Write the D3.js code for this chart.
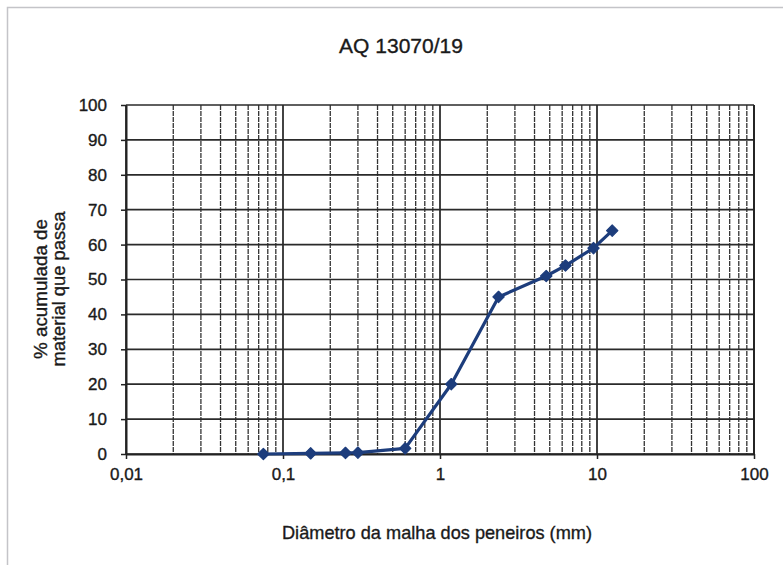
<!DOCTYPE html>
<html>
<head>
<meta charset="utf-8">
<script src="https://cdn.jsdelivr.net/npm/d3@7"></script>
<style>
  body { margin: 0; background: #fff; }
  text { font-family: "Liberation Sans", Arial, sans-serif; fill: #1a1a1a; stroke: #1a1a1a; stroke-width: 0.35px; }
</style>
</head>
<body>
<div id="chart"></div>
<script>
// sieve data
let sieveSizes = [0.075, 0.15, 0.25, 0.3, 0.6, 1.18, 2.36, 4.75, 6.3, 9.5, 12.5];
let passing = [0, 0.2, 0.3, 0.4, 1.6, 20, 45, 51, 54, 59, 64];
let xTickValues = [0.01, 0.1, 1, 10, 100];
let xTickLabels = ["0,01", "0,1", "1", "10", "100"];
let yTickValues = [0, 10, 20, 30, 40, 50, 60, 70, 80, 90, 100];

let chartTitle = "AQ 13070/19";
let xTitle = "Diâmetro da malha dos peneiros (mm)";
let yTitleLines = ["% acumulada de", "material que passa"];

let svgWidth = 783;
let svgHeight = 569;

// plot area
let margins = { top: 105, right: 29, bottom: 115, left: 126 };
let width = svgWidth - margins.left - margins.right;
let height = svgHeight - margins.top - margins.bottom;

let svg = d3.select("#chart")
    .append("svg")
    .attr("width", svgWidth)
    .attr("height", svgHeight);

// outer chart frame (only top and left show in the scan)
svg.append("path")
    .attr("d", "M7.5,565 V7.5 H783")
    .attr("fill", "none")
    .attr("stroke", "#c4c4c8")
    .attr("stroke-width", 1.5);

let chartGroup = svg.append("g")
    .attr("transform", `translate(${margins.left}, ${margins.top})`);

let xScale = d3.scaleLog()
    .domain([0.01, 100])
    .range([0, width]);

let yScale = d3.scaleLinear()
    .domain([0, 100])
    .range([height, 0]);

// vertical grid: 1..9 in each decade
let xGrid = xScale.ticks();
let isMajor = d => Math.abs(Math.log10(d) - Math.round(Math.log10(d))) < 1e-9;

chartGroup.append("g")
    .selectAll("line")
    .data(xGrid)
    .enter()
    .append("line")
    .attr("x1", d => xScale(d))
    .attr("x2", d => xScale(d))
    .attr("y1", 0)
    .attr("y2", height)
    .attr("stroke", d => isMajor(d) ? "#222" : "#333")
    .attr("stroke-width", d => isMajor(d) ? 1.7 : 1.3)
    .attr("stroke-dasharray", d => isMajor(d) ? null : "5,1");

// horizontal grid
chartGroup.append("g")
    .selectAll("line")
    .data(yTickValues)
    .enter()
    .append("line")
    .attr("x1", 0)
    .attr("x2", width)
    .attr("y1", d => yScale(d))
    .attr("y2", d => yScale(d))
    .attr("stroke", "#2a2a2a")
    .attr("stroke-width", 1.7);

// axes
let bottomAxis = d3.axisBottom(xScale)
    .tickValues(xTickValues)
    .tickFormat((d, i) => xTickLabels[i])
    .tickSizeInner(5)
    .tickSizeOuter(0)
    .tickPadding(9);

let leftAxis = d3.axisLeft(yScale)
    .tickValues(yTickValues)
    .tickSizeInner(5)
    .tickSizeOuter(0)
    .tickPadding(14);

let xAxisG = chartGroup.append("g")
    .attr("transform", `translate(0, ${height})`)
    .call(bottomAxis);

let yAxisG = chartGroup.append("g")
    .call(leftAxis);

chartGroup.append("line")
    .attr("x1", width).attr("x2", width)
    .attr("y1", 0).attr("y2", height)
    .attr("stroke", "#222").attr("stroke-width", 1.8);

[xAxisG, yAxisG].forEach(g => {
    g.select(".domain").attr("stroke", "#222").attr("stroke-width", 2);
    g.selectAll(".tick line").attr("stroke", "#222").attr("stroke-width", 1.5);
    g.selectAll(".tick text")
        .attr("font-size", 17)
        .attr("font-family", "'Liberation Sans', Arial, sans-serif")
        .attr("fill", "#1a1a1a");
});

// the data line
let points = sieveSizes.map((s, i) => ({ size: s, pass: passing[i] }));

let line = d3.line()
    .x(d => xScale(d.size))
    .y(d => yScale(d.pass));

chartGroup.append("path")
    .datum(points)
    .attr("d", line)
    .attr("fill", "none")
    .attr("stroke", "#1d3d7c")
    .attr("stroke-width", 3.2)
    .attr("stroke-linejoin", "round");

chartGroup.selectAll(".marker")
    .data(points)
    .enter()
    .append("path")
    .attr("class", "marker")
    .attr("d", d3.symbol().type(d3.symbolSquare).size(64))
    .attr("transform", d => `translate(${xScale(d.size)}, ${yScale(d.pass)}) rotate(45)`)
    .attr("fill", "#1d3d7c")
    .attr("stroke", "#1d3d7c")
    .attr("stroke-width", 1.2)
    .attr("stroke-linejoin", "round");

// titles
svg.append("text")
    .attr("x", 401)
    .attr("y", 53)
    .attr("text-anchor", "middle")
    .attr("font-size", 21)
    .text(chartTitle);

svg.append("text")
    .attr("x", 437)
    .attr("y", 539)
    .attr("text-anchor", "middle")
    .attr("font-size", 19)
    .attr("textLength", 310)
    .attr("lengthAdjust", "spacingAndGlyphs")
    .text(xTitle);

let yTitle = svg.append("text")
    .attr("transform", "translate(0, 289) rotate(-90)")
    .attr("text-anchor", "middle")
    .attr("font-size", 18);

yTitle.append("tspan")
    .attr("x", 0)
    .attr("y", 47)
    .attr("textLength", 140)
    .attr("lengthAdjust", "spacingAndGlyphs")
    .text(yTitleLines[0]);

yTitle.append("tspan")
    .attr("x", 0)
    .attr("y", 65)
    .attr("textLength", 155)
    .attr("lengthAdjust", "spacingAndGlyphs")
    .text(yTitleLines[1]);
</script>
</body>
</html>
